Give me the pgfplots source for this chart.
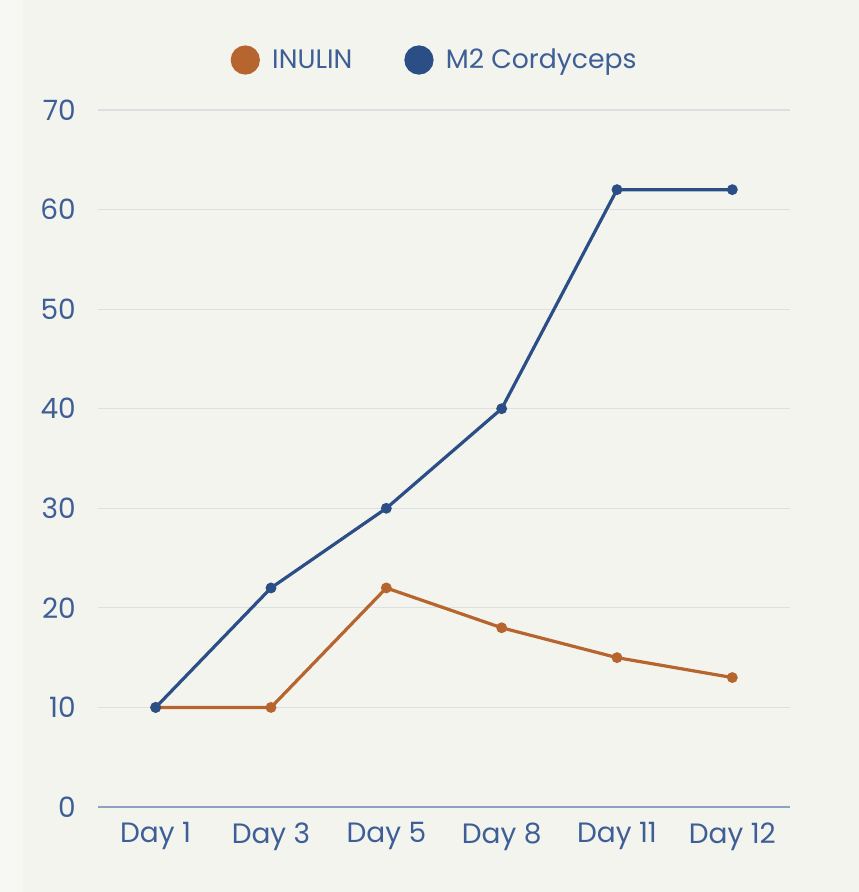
\documentclass[border=0pt]{standalone}
\usepackage{pgfplots}
\pgfplotsset{compat=1.18}
\usepackage{fontspec}
\setmainfont{Poppins}
\definecolor{bg}{HTML}{F4F4EE}
\definecolor{bgl}{HTML}{F7F7F3}
\definecolor{txt}{HTML}{3D5E96}
\definecolor{gridc}{HTML}{DDE0E3}
\definecolor{axl}{HTML}{8DA2C2}
\definecolor{blueline}{HTML}{2B4E87}
\definecolor{orangeline}{HTML}{B7652F}
\begin{document}
\begin{tikzpicture}
\fill[bg] (0pt,0pt) rectangle (644.25pt,669pt);
\fill[bgl] (0pt,0pt) rectangle (17.25pt,669pt);
\begin{axis}[
  at={(73.5pt,63.75pt)}, anchor=south west,
  scale only axis, width=519pt, height=522.75pt,
  xmin=-0.5, xmax=5.5, ymin=0, ymax=70,
  xtick={0,1,2,3,4,5},
  xticklabels={Day 1,Day 3,Day 5,Day 8,Day 11,Day 12},
  ytick={10,20,30,40,50,60,70},
  extra y ticks={0},
  extra y tick style={grid=none},
  /pgf/number format/assume math mode=true,
  major tick length=0pt,
  axis x line*=bottom, axis y line*=left,
  x axis line style={draw=axl, line width=1pt, -},
  y axis line style={draw=none},
  xmajorgrids=false, ymajorgrids=true,
  grid style={draw=gridc, line width=0.9pt},
  tick label style={font=\fontsize{21}{25}\selectfont, text=txt},
  yticklabel style={anchor=east, inner sep=0pt, xshift=-16.5pt},
  xticklabel style={anchor=north, inner sep=0pt, yshift=-11.5pt},
  legend columns=2,
  legend style={draw=none, fill=none, at={(0.487,1.0717)}, anchor=center,
    font=\fontsize{20}{24}\selectfont, text=txt,
    /tikz/every even column/.append style={column sep=37pt}},
  legend image code/.code={\fill (0pt,0pt) circle (9.75pt); \path (17pt,0pt);},
  clip=false,
]
\addplot[color=orangeline, line width=2.4pt, mark=*, mark size=2.8pt] coordinates {(0,10) (1,10) (2,22) (3,18) (4,15) (5,13)};
\addlegendentry{INULIN}
\addplot[color=blueline, line width=2.4pt, mark=*, mark size=2.8pt] coordinates {(0,10) (1,22) (2,30) (3,40) (4,62) (5,62)};
\addlegendentry{M2 Cordyceps}
\end{axis}
\end{tikzpicture}
\end{document}
